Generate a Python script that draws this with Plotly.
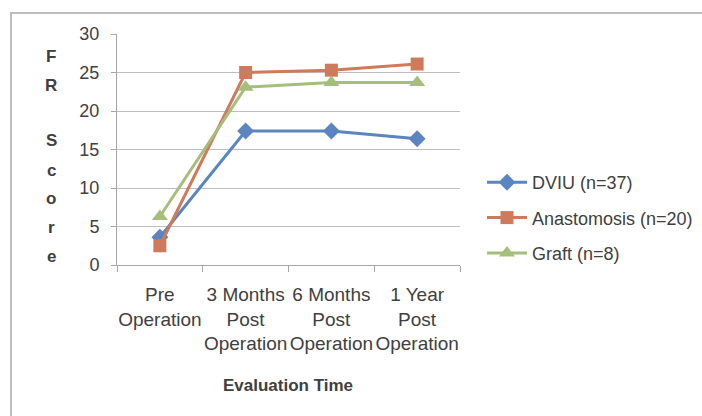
import plotly.graph_objects as go

categories = ["Pre<br>Operation", "3 Months<br>Post<br>Operation", "6 Months<br>Post<br>Operation", "1 Year<br>Post<br>Operation"]
dviu = [3.6, 17.4, 17.4, 16.4]
anastomosis = [2.5, 25.0, 25.3, 26.1]
graft = [6.3, 23.1, 23.7, 23.7]
series_names = ["DVIU (n=37)", "Anastomosis (n=20)", "Graft (n=8)"]
y_ticks = [0, 5, 10, 15, 20, 25, 30]
y_title_letters = ["F", "R", "S", "c", "o", "r", "e"]
y_title_pos = [57, 85, 140, 170, 198, 227, 256]

FONT = "Liberation Sans"
W, H = 702, 416
L, R, T, B = 117, 460, 34, 265

def px_x(p):
    return (p - L) / (R - L)

def px_y(p):
    return (B - p) / (B - T)

fig = go.Figure()
fig.add_trace(go.Scatter(x=categories, y=dviu, name=series_names[0], mode="lines+markers",
                         legendgroup="a",
                         line=dict(color="#5B85C0", width=3),
                         marker=dict(symbol="diamond", size=13, color="#5B85C0")))
fig.add_trace(go.Scatter(x=categories, y=anastomosis, name=series_names[1], mode="lines+markers",
                         legendgroup="b",
                         line=dict(color="#CF7A5A", width=3),
                         marker=dict(symbol="square", size=13, color="#CF7A5A")))
fig.add_trace(go.Scatter(x=categories, y=graft, name=series_names[2], mode="lines+markers",
                         legendgroup="c",
                         line=dict(color="#A5BE7C", width=3),
                         marker=dict(symbol="triangle-up", size=14, color="#A5BE7C")))

fig.update_layout(
    width=W, height=H,
    margin=dict(l=L, r=W - R, t=T, b=H - B, autoexpand=False),
    paper_bgcolor="white", plot_bgcolor="white",
    font=dict(family=FONT, size=18, color="#404040"),
    showlegend=True,
    legend=dict(x=px_x(482), y=px_y(164), xanchor="left", yanchor="top",
                font=dict(family=FONT, size=18, color="#404040"),
                traceorder="grouped", tracegroupgap=9, itemwidth=40,
                bgcolor="rgba(0,0,0,0)"),
    xaxis=dict(type="category", showgrid=False, showline=True, linecolor="#a6a6a6", linewidth=1,
               ticks="outside", tickson="boundaries", ticklen=6, tickcolor="#a6a6a6",
               tickangle=0, automargin=False, ticklabelstandoff=12,
               tickfont=dict(family=FONT, size=19, color="#404040"),
               range=[-0.5, 3.5], fixedrange=True),
    yaxis=dict(range=[0, 30], tickvals=y_ticks, showgrid=True, gridcolor="#bfbfbf", gridwidth=1,
               showline=True, linecolor="#a6a6a6", linewidth=1, ticks="outside", ticklen=5,
               tickcolor="#a6a6a6", automargin=False, ticklabelstandoff=8,
               tickfont=dict(family=FONT, size=18, color="#404040"),
               zeroline=False),
)

# y-axis title: stacked letters
for letter, py in zip(y_title_letters, y_title_pos):
    fig.add_annotation(text="<b>" + letter + "</b>", xref="paper", yref="paper",
                       x=px_x(51), y=px_y(py), showarrow=False,
                       xanchor="center", yanchor="middle",
                       font=dict(family=FONT, size=17, color="#404040"))

# x-axis title
fig.add_annotation(text="<b>Evaluation Time</b>", xref="paper", yref="paper",
                   x=px_x(288), y=px_y(385), showarrow=False, xanchor="center", yanchor="middle",
                   font=dict(family=FONT, size=17, color="#404040"))

# chart border
fig.add_shape(type="rect", xref="paper", yref="paper",
              x0=px_x(11), x1=px_x(710), y0=px_y(13), y1=px_y(425),
              line=dict(color="#bdbdbd", width=2), layer="below")

fig.write_html("out.html", config={"displayModeBar": False},
               post_script="document.body.style.margin='0';")
